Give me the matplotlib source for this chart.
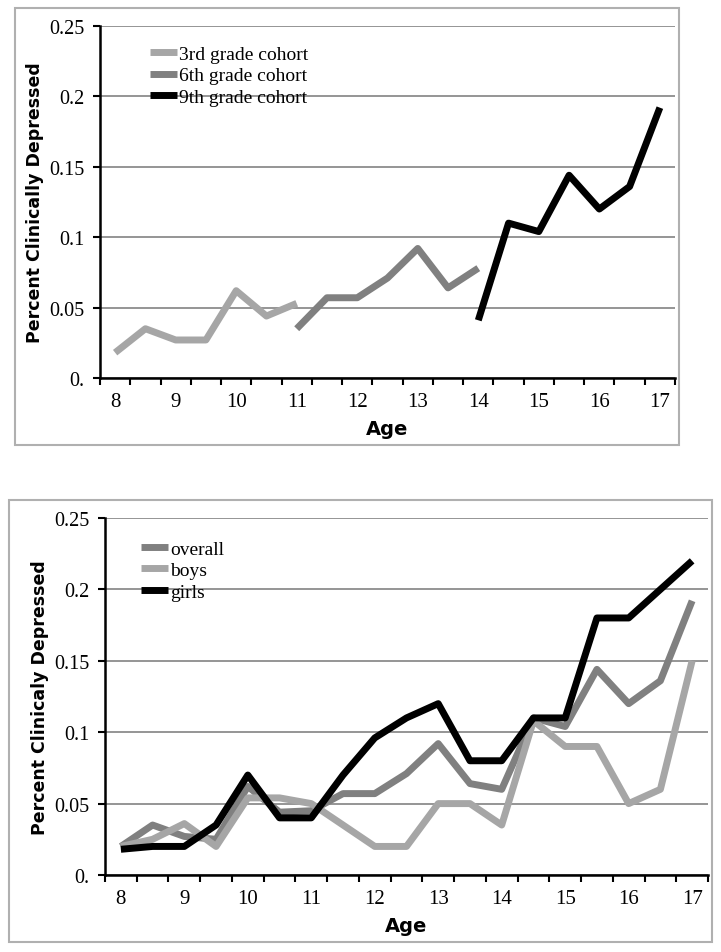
import matplotlib.pyplot as plt
from matplotlib.patches import Rectangle

ages = [8, 8.5, 9, 9.5, 10, 10.5, 11, 11.5, 12, 12.5, 13, 13.5, 14, 14.5, 15, 15.5, 16, 16.5, 17]
age_labels = ['8', '9', '10', '11', '12', '13', '14', '15', '16', '17']

# top panel: cohorts (index into ages)
third = [0.018, 0.035, 0.027, 0.027, 0.062, 0.044, 0.053]
sixth = [0.035, 0.057, 0.057, 0.071, 0.092, 0.064, 0.078]
ninth = [0.041, 0.110, 0.104, 0.144, 0.120, 0.136, 0.192]

# bottom panel
overall = [0.020, 0.035, 0.027, 0.025, 0.062, 0.044, 0.045, 0.057, 0.057, 0.071,
           0.092, 0.064, 0.060, 0.110, 0.104, 0.144, 0.120, 0.136, 0.192]
boys = [0.020, 0.025, 0.036, 0.020, 0.054, 0.054, 0.050, 0.035, 0.020, 0.020,
        0.050, 0.050, 0.035, 0.108, 0.090, 0.090, 0.050, 0.060, 0.150]
girls = [0.018, 0.020, 0.020, 0.035, 0.070, 0.040, 0.040, 0.070, 0.096, 0.110,
         0.120, 0.080, 0.080, 0.110, 0.110, 0.180, 0.180, 0.200, 0.220]

light = '#a6a6a6'
mid = '#808080'
W, H = 721, 953

fig = plt.figure(figsize=(7.21, 9.53), dpi=100)


def frame(x0, y0, x1, y1):
    fig.patches.append(Rectangle((x0 / W, 1 - y1 / H), (x1 - x0) / W, (y1 - y0) / H,
                                 transform=fig.transFigure, fill=False,
                                 edgecolor='#b0b0b0', lw=1.5))


def setup(ax, ylabel):
    ax.set_xlim(-0.5, len(ages) - 0.5)
    ax.set_ylim(0, 0.25)
    ax.set_xticks([i + 0.5 for i in range(-1, len(ages))])
    ax.set_xticklabels([])
    ax.set_xticks(range(0, len(ages), 2), minor=True)
    ax.set_xticklabels(age_labels, minor=True, family='Liberation Serif', fontsize=15)
    ax.tick_params(axis='x', which='major', direction='out', length=5, width=1.5)
    ax.tick_params(axis='x', which='minor', length=0, pad=10)
    yt = [0, 0.05, 0.1, 0.15, 0.2, 0.25]
    ax.set_yticks(yt)
    ax.set_yticklabels(['0.', '0.05', '0.1', '0.15', '0.2', '0.25'],
                       family='Liberation Serif', fontsize=14.5)
    ax.tick_params(axis='y', direction='out', length=5, width=1.5, pad=6)
    ax.grid(axis='y', color='#8c8c8c', lw=1.3)
    ax.set_axisbelow(True)
    for s in ['top', 'right']:
        ax.spines[s].set_visible(False)
    ax.spines['left'].set_linewidth(1.8)
    ax.spines['bottom'].set_linewidth(1.8)
    ax.set_xlabel('Age', fontweight='bold', fontsize=14, family='DejaVu Sans', labelpad=6)
    ax.set_ylabel(ylabel, fontweight='bold', fontsize=12.5, family='DejaVu Sans')


lw = 5
cap = 'butt'
leg_font = {'family': 'Liberation Serif', 'size': 14}

# top chart
frame(15, 9, 679, 446)
ax1 = fig.add_axes([100 / W, 1 - 379 / H, 575 / W, 352 / H])
ax1.plot(range(0, 7), third, color=light, lw=lw, solid_capstyle=cap, label='3rd grade cohort')
ax1.plot(range(6, 13), sixth, color=mid, lw=lw, solid_capstyle=cap, label='6th grade cohort')
ax1.plot(range(12, 19), ninth, color='black', lw=lw, solid_capstyle=cap, label='9th grade cohort')
setup(ax1, 'Percent Clinically Depressed')
ax1.legend(loc='upper left', bbox_to_anchor=(0.057, 0.995), frameon=False,
           prop=leg_font, handlelength=1.4, handletextpad=0.1, labelspacing=0.2)

# bottom chart
frame(9, 501, 712, 943)
ax2 = fig.add_axes([105 / W, 1 - 876 / H, 603 / W, 357 / H])
ax2.plot(range(len(ages)), overall, color=mid, lw=lw, solid_capstyle=cap, label='overall')
ax2.plot(range(len(ages)), boys, color=light, lw=lw, solid_capstyle=cap, label='boys')
ax2.plot(range(len(ages)), girls, color='black', lw=lw, solid_capstyle=cap, label='girls')
setup(ax2, 'Percent Clinicaly Depressed')
ax2.legend(loc='upper left', bbox_to_anchor=(0.03, 0.987), frameon=False,
           prop=leg_font, handlelength=1.4, handletextpad=0.1, labelspacing=0.2)

fig.savefig('out.png', dpi=100)
